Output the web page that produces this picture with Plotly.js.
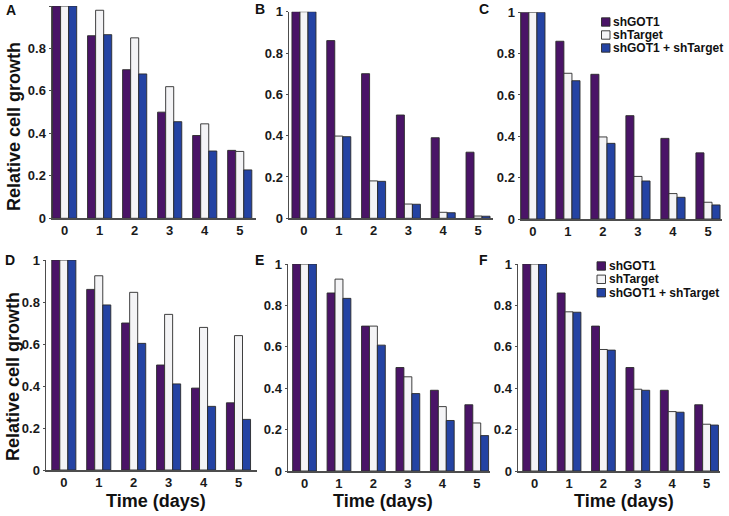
<!DOCTYPE html>
<html>
<head>
<meta charset="utf-8">
<script src="https://cdn.plot.ly/plotly-3.0.1.min.js"></script>
<style>html,body{margin:0;padding:0;background:#fff;}#chart{width:729px;height:516px;}</style>
</head>
<body>
<div id="chart"></div>
<script>
// ---------- data ----------
var days = [0, 1, 2, 3, 4, 5];
var tickLabels = ["0", "1", "2", "3", "4", "5"];
var yTickVals = [0, 0.2, 0.4, 0.6, 0.8, 1];
var yTickLabels = ["0", "0.2", "0.4", "0.6", "0.8", "1"];
var seriesNames = ["shGOT1", "shTarget", "shGOT1 + shTarget"];
var panelLetters = ["A", "B", "C", "D", "E", "F"];

var shGOT1 = [1, 0.86, 0.70, 0.50, 0.39, 0.32];

var A_shTarget = [1, 0.98, 0.85, 0.62, 0.445, 0.315];
var A_combo    = [1, 0.865, 0.68, 0.455, 0.317, 0.228];
var B_shTarget = [1, 0.398, 0.181, 0.069, 0.029, 0.011];
var B_combo    = [1, 0.395, 0.179, 0.068, 0.027, 0.010];
var C_shTarget = [1, 0.705, 0.397, 0.206, 0.123, 0.081];
var C_combo    = [1, 0.669, 0.366, 0.184, 0.105, 0.068];
var D_shTarget = [1, 0.925, 0.846, 0.741, 0.679, 0.640];
var D_combo    = [1, 0.786, 0.603, 0.410, 0.303, 0.241];
var E_shTarget = [1, 0.927, 0.700, 0.455, 0.311, 0.232];
var E_combo    = [1, 0.834, 0.608, 0.374, 0.244, 0.171];
var F_shTarget = [1, 0.769, 0.587, 0.395, 0.287, 0.226];
var F_combo    = [1, 0.767, 0.584, 0.390, 0.284, 0.222];

var panelTarget = [A_shTarget, B_shTarget, C_shTarget, D_shTarget, E_shTarget, F_shTarget];
var panelCombo  = [A_combo, B_combo, C_combo, D_combo, E_combo, F_combo];

// ---------- styling / layout ----------
var W = 729, H = 516;
var colors = ["#4a1467", "#f4f4f6", "#2443a3"];
var FONT = "Liberation Sans, Arial, Helvetica, sans-serif";

function bold(arr) { return arr.map(function (t) { return "<b>" + t + "</b>"; }); }

// pixel boxes [x0, x1, yTop, yBottom] and x ranges
var boxes = [
  [52, 255.5, 6, 218.3],
  [289, 493, 11.7, 218.3],
  [521, 722, 12.3, 219],
  [46, 257, 260, 470],
  [288, 489.5, 264, 471],
  [518, 720, 264, 471]
];
var xr = [
  [-0.36, 5.45],
  [-0.43, 5.43],
  [-0.34, 5.40],
  [-0.51, 5.53],
  [-0.48, 5.37],
  [-0.485, 5.39]
];
var letterPos = [[10.5, 10], [260, 8.5], [484, 9], [9.5, 260], [259, 260], [483.5, 260]];

function px(x) { return x / W; }
function py(y) { return 1 - y / H; }

var data = [];
var layout = {
  width: W, height: H,
  margin: {l: 0, r: 0, t: 0, b: 0},
  paper_bgcolor: "#ffffff",
  plot_bgcolor: "rgba(0,0,0,0)",
  barmode: "group",
  bargap: 0.31,
  bargroupgap: 0,
  showlegend: false,
  font: {family: FONT, color: "#1a1a1a"},
  annotations: [],
  shapes: []
};

for (var p = 0; p < 6; p++) {
  var idx = p === 0 ? "" : String(p + 1);
  var xa = "x" + idx, ya = "y" + idx;
  var vals = [shGOT1, panelTarget[p], panelCombo[p]];
  for (var s = 0; s < 3; s++) {
    data.push({
      type: "bar",
      x: days,
      y: vals[s],
      name: seriesNames[s],
      xaxis: xa, yaxis: ya,
      marker: {color: colors[s], line: {color: "#2a2a2a", width: 0.9}},
      cliponaxis: false,
      hoverinfo: "x+y+name"
    });
  }
  var b = boxes[p];
  layout["xaxis" + idx] = {
    domain: [px(b[0]), px(b[1])],
    anchor: ya,
    range: xr[p],
    tickvals: days,
    ticktext: bold(tickLabels),
    showgrid: false, zeroline: false,
    showline: true, linecolor: "#4d4d4d", linewidth: 1.5,
    ticks: "",
    tickfont: {family: FONT, size: 13, color: "#1a1a1a"},
    fixedrange: true
  };
  layout["yaxis" + idx] = {
    domain: [py(b[3]), py(b[2])],
    anchor: xa,
    range: [0, 1],
    tickvals: yTickVals,
    ticktext: bold(yTickLabels),
    showgrid: false, zeroline: false,
    showline: true, linecolor: "#4d4d4d", linewidth: 1.5,
    ticks: "outside", ticklen: 2, tickcolor: "#4d4d4d",
    tickfont: {family: FONT, size: 13, color: "#1a1a1a"},
    fixedrange: true
  };
  // panel letter
  layout.annotations.push({
    xref: "paper", yref: "paper",
    x: px(letterPos[p][0]), y: py(letterPos[p][1]),
    xanchor: "center", yanchor: "middle",
    text: "<b>" + panelLetters[p] + "</b>",
    showarrow: false,
    font: {family: FONT, size: 14, color: "#111"}
  });
}

// axis titles (left column / bottom row)
var yTitlePos = [[14, 127], [13, 377]];
yTitlePos.forEach(function (pt) {
  layout.annotations.push({
    xref: "paper", yref: "paper",
    x: px(pt[0]), y: py(pt[1]),
    xanchor: "center", yanchor: "middle",
    textangle: -90,
    text: "<b>Relative cell growth</b>",
    showarrow: false,
    font: {family: FONT, size: 18, color: "#111"}
  });
});
var xTitlePos = [[156, 501], [382.5, 501], [624, 501]];
xTitlePos.forEach(function (pt) {
  layout.annotations.push({
    xref: "paper", yref: "paper",
    x: px(pt[0]), y: py(pt[1]),
    xanchor: "center", yanchor: "middle",
    text: "<b>Time (days)</b>",
    showarrow: false,
    font: {family: FONT, size: 18, color: "#111"}
  });
});

// legends in panels C and F
var legendSpecs = [
  {sq: 601.5, tx: 611, rows: [22, 35, 48]},
  {sq: 597, tx: 606.5, rows: [266, 279.3, 292.7]}
];
legendSpecs.forEach(function (lg) {
  for (var s = 0; s < 3; s++) {
    var yc = lg.rows[s];
    layout.shapes.push({
      type: "rect", xref: "paper", yref: "paper",
      x0: px(lg.sq), x1: px(lg.sq + 8.5),
      y0: py(yc + 4.2), y1: py(yc - 4.2),
      fillcolor: colors[s],
      line: {color: "#2a2a2a", width: 0.9}
    });
    layout.annotations.push({
      xref: "paper", yref: "paper",
      x: px(lg.tx), y: py(yc),
      xanchor: "left", yanchor: "middle",
      text: "<b>" + seriesNames[s] + "</b>",
      showarrow: false,
      font: {family: FONT, size: 12, color: "#111"}
    });
  }
});

Plotly.newPlot("chart", data, layout, {staticPlot: true, displayModeBar: false});
</script>
</body>
</html>
